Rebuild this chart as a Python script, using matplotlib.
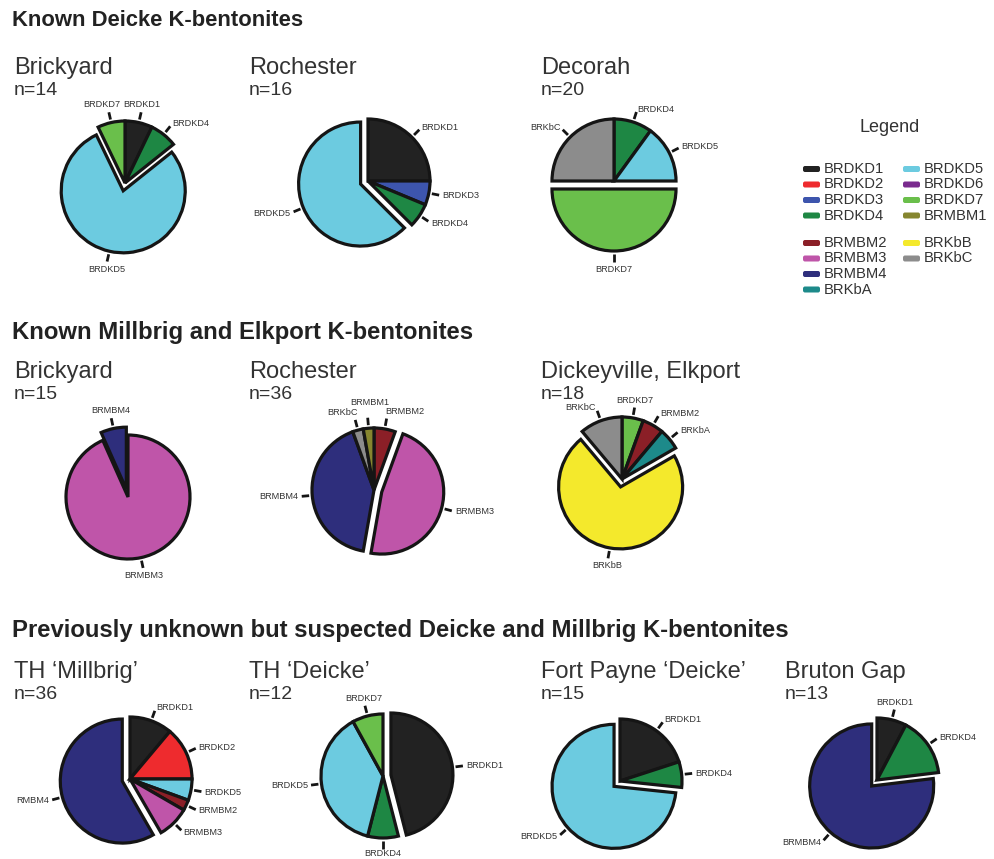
import matplotlib.pyplot as plt
from matplotlib.patches import FancyBboxPatch
import numpy as np

plt.rcParams['font.family'] = ['Liberation Sans', 'DejaVu Sans']

W, H = 995, 859

# legend groups and their colours
group_names = ['BRDKD1', 'BRDKD2', 'BRDKD3', 'BRDKD4', 'BRDKD5', 'BRDKD6', 'BRDKD7',
               'BRMBM1', 'BRMBM2', 'BRMBM3', 'BRMBM4', 'BRKbA', 'BRKbB', 'BRKbC']
group_colors = ['#222222', '#ee2b2e', '#3d55ad', '#1e8744', '#6ccbe0', '#7a2b8e', '#6abf4b',
                '#86862f', '#8b1f27', '#bf55a9', '#2e2e7c', '#1d8a8a', '#f4e92c', '#8c8c8c']
COLORS = dict(zip(group_names, group_colors))

# --- Known Deicke K-bentonites ---
dk_brickyard_lab = ['BRDKD1', 'BRDKD4', 'BRDKD5', 'BRDKD7']
dk_brickyard_val = [1, 1, 11, 1]
dk_rochester_lab = ['BRDKD1', 'BRDKD3', 'BRDKD4', 'BRDKD5']
dk_rochester_val = [4, 1, 1, 10]
dk_decorah_lab = ['BRDKD4', 'BRDKD5', 'BRDKD7', 'BRKbC']
dk_decorah_val = [2, 3, 10, 5]

# --- Known Millbrig and Elkport K-bentonites ---
mb_brickyard_lab = ['BRMBM3', 'BRMBM4']
mb_brickyard_val = [14, 1]
mb_rochester_lab = ['BRMBM2', 'BRMBM3', 'BRMBM4', 'BRKbC', 'BRMBM1']
mb_rochester_val = [2, 17, 15, 1, 1]
mb_dickey_lab = ['BRDKD7', 'BRMBM2', 'BRKbA', 'BRKbB', 'BRKbC']
mb_dickey_val = [1, 1, 1, 13, 2]

# --- Previously unknown ---
th_millbrig_lab = ['BRDKD1', 'BRDKD2', 'BRDKD5', 'BRMBM2', 'BRMBM3', 'BRMBM4']
th_millbrig_val = [4, 5, 2, 1, 3, 21]
th_millbrig_txt = ['BRDKD1', 'BRDKD2', 'BRDKD5', 'BRMBM2', 'BRMBM3', 'RMBM4']
th_deicke_lab = ['BRDKD1', 'BRDKD4', 'BRDKD5', 'BRDKD7']
th_deicke_val = [46, 8, 38, 8]
fp_deicke_lab = ['BRDKD1', 'BRDKD4', 'BRDKD5']
fp_deicke_val = [3, 1, 11]
bruton_lab = ['BRDKD1', 'BRDKD4', 'BRMBM4']
bruton_val = [1, 2, 10]

fig = plt.figure(figsize=(W / 100, H / 100), dpi=100)
ax = fig.add_axes([0, 0, 1, 1])


def txt(x, y, s, **kw):
    ax.text(x, H - y, s, **kw)


def draw_pie(cx, cy, labels, values, exploded, texts=None, shifts=None, r=62):
    if texts is None:
        texts = labels
    shifts = shifts or {}
    expl = [8 if l == exploded else 0 for l in labels]
    wedges, _ = ax.pie(values, colors=[COLORS[l] for l in labels], startangle=90,
                       counterclock=False, center=(cx, H - cy), radius=r, explode=expl,
                       wedgeprops=dict(edgecolor='#151515', linewidth=2.3))
    for w, s in zip(wedges, texts):
        a = np.deg2rad((w.theta1 + w.theta2) / 2)
        c, sn = np.cos(a), np.sin(a)
        ox, oy = w.center
        ax.plot([ox + r * 1.05 * c, ox + r * 1.17 * c], [oy + r * 1.05 * sn, oy + r * 1.17 * sn],
                color='#151515', lw=2, solid_capstyle='butt')
        if c > 0.3:
            ha, va = 'left', 'center'
        elif c < -0.3:
            ha, va = 'right', 'center'
        else:
            ha = 'center'
            va = 'bottom' if sn > 0 else 'top'
        dx, dy = shifts.get(s, (0, 0))
        ax.text(ox + r * 1.22 * c + dx, oy + r * 1.22 * sn - dy, s, ha=ha, va=va,
                fontsize=6.6, color='#333333')


# section headers
hdr = dict(fontweight='bold', color='#222222', va='center')
txt(12, 20, 'Known Deicke K-bentonites', fontsize=15.8, **hdr)
txt(12, 333, 'Known Millbrig and Elkport K-bentonites', fontsize=17.2, **hdr)
txt(12, 631, 'Previously unknown but suspected Deicke and Millbrig K-bentonites', fontsize=17.2, **hdr)

name_kw = dict(fontsize=17, color='#333333', va='baseline')
n_kw = dict(fontsize=14, color='#333333', va='baseline')
rows = [(74, 95, [('Brickyard', 'n=14', 14), ('Rochester', 'n=16', 249), ('Decorah', 'n=20', 541)]),
        (378, 399, [('Brickyard', 'n=15', 14), ('Rochester', 'n=36', 249),
                    ('Dickeyville, Elkport', 'n=18', 541)]),
        (678, 699, [('TH \u2018Millbrig\u2019', 'n=36', 14), ('TH \u2018Deicke\u2019', 'n=12', 249),
                    ('Fort Payne \u2018Deicke\u2019', 'n=15', 541), ('Bruton Gap', 'n=13', 785)])]
for yb, yn, items in rows:
    for name, n, x in items:
        txt(x, yb, name, **name_kw)
        txt(x, yn, n, **n_kw)

draw_pie(125, 183, dk_brickyard_lab, dk_brickyard_val, 'BRDKD5', shifts={'BRDKD7': (-6, 0)})
draw_pie(368, 181, dk_rochester_lab, dk_rochester_val, 'BRDKD5')
draw_pie(614, 181, dk_decorah_lab, dk_decorah_val, 'BRDKD7')

draw_pie(128, 497, mb_brickyard_lab, mb_brickyard_val, 'BRMBM4')
draw_pie(374, 490, mb_rochester_lab, mb_rochester_val, 'BRMBM3',
         shifts={'BRKbC': (-12, 0), 'BRMBM1': (2, -8), 'BRMBM2': (18, 0)})
draw_pie(622, 479, mb_dickey_lab, mb_dickey_val, 'BRKbB')

draw_pie(130, 779, th_millbrig_lab, th_millbrig_val, 'BRMBM4', texts=th_millbrig_txt)
draw_pie(383, 776, th_deicke_lab, th_deicke_val, 'BRDKD1', shifts={'BRDKD4': (0, -3)})
draw_pie(620, 781, fp_deicke_lab, fp_deicke_val, 'BRDKD5')
draw_pie(877, 780, bruton_lab, bruton_val, 'BRMBM4')

# legend
txt(890, 128, 'Legend', fontsize=13, color='#333333', ha='center', va='center')
col1 = ['BRDKD1', 'BRDKD2', 'BRDKD3', 'BRDKD4', None, 'BRMBM2', 'BRMBM3', 'BRMBM4', 'BRKbA']
col2 = ['BRDKD5', 'BRDKD6', 'BRDKD7', 'BRMBM1', None, 'BRKbB', 'BRKbC']
row_y = [169, 184.5, 200, 215.5, None, 243, 258.5, 274, 289.5]
for col, px in ((col1, 803), (col2, 903)):
    for name, yy in zip(col, row_y):
        if name is None:
            continue
        ax.add_patch(FancyBboxPatch((px, H - yy - 3), 17, 6, boxstyle='round,pad=0,rounding_size=2',
                                    fc=COLORS[name], ec='none'))
        txt(px + 21, yy, name, fontsize=10.6, color='#333333', va='center')

ax.set_xlim(0, W)
ax.set_ylim(0, H)
ax.set_aspect('equal')
ax.axis('off')
fig.savefig('out.png', dpi=100, facecolor='white')
